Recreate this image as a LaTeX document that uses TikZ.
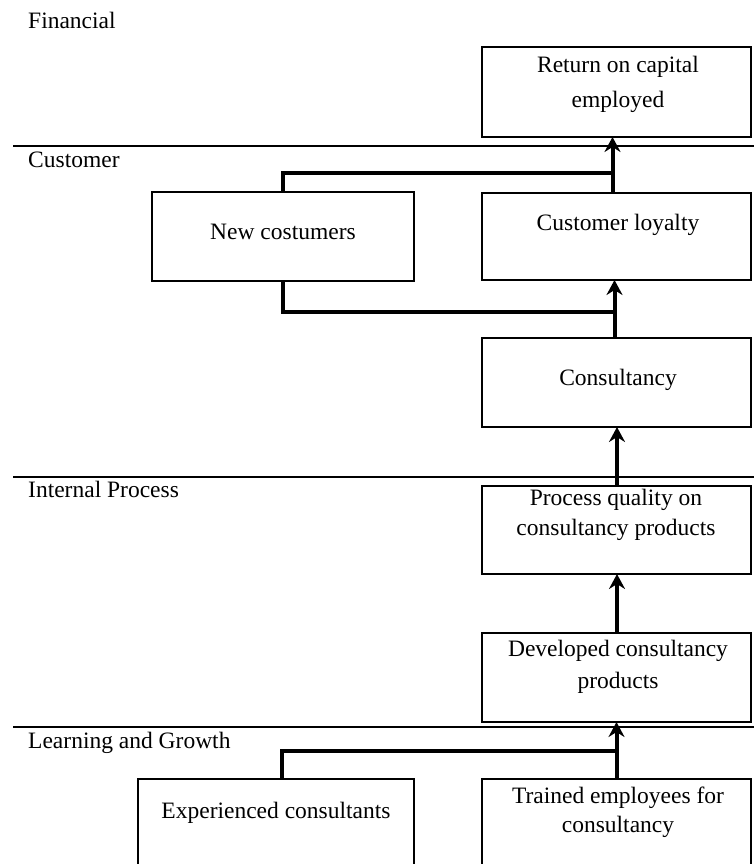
\documentclass[tikz,border=0pt]{standalone}
\usepackage{fontspec}
\setmainfont{Liberation Serif}
\usetikzlibrary{arrows.meta}
\begin{document}
\begin{tikzpicture}[x=1pt,y=-1pt,
  box/.style={draw, line width=1.6pt, inner sep=0pt, outer sep=0pt, anchor=north west},
  txt/.style={inner sep=0pt, anchor=base, align=center, font=\fontsize{23.5}{30}\selectfont},
  lbl/.style={inner sep=0pt, anchor=base west, font=\fontsize{23.5}{28}\selectfont},
  sep/.style={line width=2pt},
  link/.style={line width=4pt},
  arr/.style={line width=4pt, -{Stealth[length=15pt,width=16pt,inset=5pt]}}
]
\clip (0,0) rectangle (754,864);
% section labels
\node[lbl] (lfin) at (28,29) {Financial};
\node[lbl] (lcus) at (28,167) {Customer};
\node[lbl] (lint) at (28,497) {Internal Process};
\node[lbl] (llea) at (28,748) {Learning and Growth};
% separators
\draw[sep] (13,146) -- (754,146);
\draw[sep] (13,477) -- (754,477);
\draw[sep] (13,727) -- (754,727);
% boxes
\node[box, minimum width=269pt, minimum height=90pt] (roce) at (482,47) {};
\node[box, minimum width=262pt, minimum height=89pt] (newc) at (152,192) {};
\node[box, minimum width=269pt, minimum height=87pt] (loyal) at (482,193) {};
\node[box, minimum width=269pt, minimum height=89pt] (cons) at (482,338) {};
\node[box, minimum width=269pt, minimum height=88pt] (proc) at (482,486) {};
\node[box, minimum width=269pt, minimum height=89pt] (dev) at (482,633) {};
\node[box, minimum width=276pt, minimum height=120pt] (exp) at (138,779) {};
\node[box, minimum width=269pt, minimum height=120pt] (trn) at (482,779) {};
% box texts (multi-line nodes are placed at the baseline of their last line)
\node[txt, font=\fontsize{23.5}{35}\selectfont] (troce) at (618,108) {Return on capital\\employed};
\node[txt] (tnewc) at (283,239) {New costumers};
\node[txt] (tloyal) at (618,230) {Customer loyalty};
\node[txt] (tcons) at (618,385) {Consultancy};
\node[txt] (tproc) at (616,535) {Process quality on\\consultancy products};
\node[txt, font=\fontsize{23.5}{32}\selectfont] (tdev) at (618,688) {Developed consultancy\\products};
\node[txt] (texp) at (276,818) {Experienced consultants};
\node[txt, font=\fontsize{23.5}{29}\selectfont] (ttrn) at (618,832) {Trained employees for\\consultancy};
% junctions
\coordinate (j1) at (614,173);
\coordinate (j2) at (615,312);
\coordinate (j3) at (617,751);
% connectors
\draw[link] (newc.north) |- (j1);
\draw[arr] ([xshift=-4pt]loyal.north) -- ([xshift=-4pt]roce.south);
\draw[link] (newc.south) |- (j2);
\draw[arr] ([xshift=-2pt]cons.north) -- ([xshift=-2pt]loyal.south);
\draw[arr] ([xshift=0.5pt]proc.north) -- ([xshift=0.5pt]cons.south);
\draw[arr] ([xshift=0.5pt]dev.north) -- ([xshift=0.5pt]proc.south);
\draw[link] ([xshift=6pt]exp.north) |- (j3);
\draw[arr] (trn.north) -- (dev.south);
\end{tikzpicture}
\end{document}
